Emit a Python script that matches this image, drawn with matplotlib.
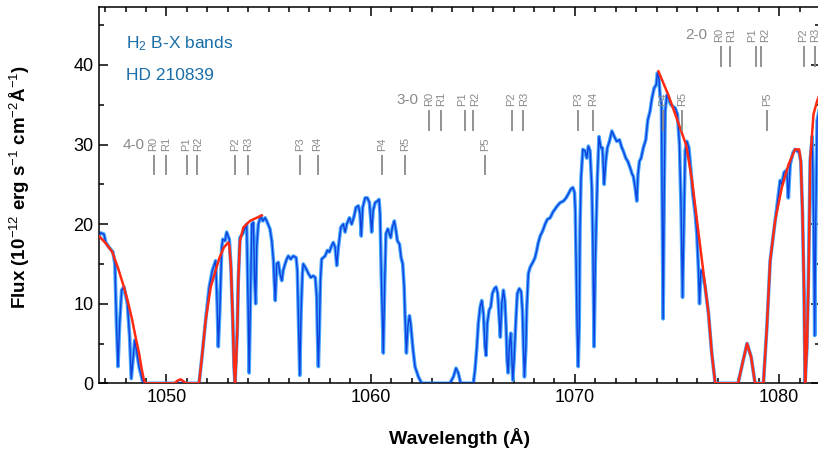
import matplotlib
matplotlib.use('Agg')
import matplotlib.pyplot as plt
from matplotlib.ticker import MultipleLocator

plt.rcParams['font.family'] = ['Liberation Sans', 'DejaVu Sans']
plt.rcParams['mathtext.fontset'] = 'custom'
plt.rcParams['mathtext.rm'] = 'Liberation Sans'
plt.rcParams['mathtext.it'] = 'Liberation Sans:italic'
plt.rcParams['mathtext.bf'] = 'Liberation Sans:bold'

# ---------------- data ----------------
blue_wl = [
    1046.70, 1046.78, 1046.94, 1047.03, 1047.19, 1047.38, 1047.48, 1047.55, 1047.63, 1047.71,
    1047.81, 1047.92, 1048.09, 1048.20, 1048.28, 1048.36, 1048.45, 1048.53, 1048.66, 1048.82,
    1048.90, 1051.60, 1051.76, 1051.92, 1052.09, 1052.25, 1052.41, 1052.49, 1052.54, 1052.61,
    1052.71, 1052.76, 1052.87, 1052.95, 1053.08, 1053.16, 1053.25, 1053.31, 1053.36, 1053.47,
    1053.52, 1053.60, 1053.74, 1053.93, 1054.00, 1054.05, 1054.13, 1054.18, 1054.26, 1054.32,
    1054.37, 1054.42, 1054.50, 1054.62, 1054.72, 1054.83, 1054.91, 1055.07, 1055.16, 1055.24,
    1055.28, 1055.33, 1055.40, 1055.48, 1055.56, 1055.65, 1055.72, 1055.81, 1055.89, 1055.97,
    1056.09, 1056.21, 1056.35, 1056.41, 1056.46, 1056.53, 1056.59, 1056.66, 1056.70, 1056.84,
    1056.95, 1057.07, 1057.19, 1057.29, 1057.36, 1057.39, 1057.44, 1057.49, 1057.54, 1057.60,
    1057.77, 1057.88, 1057.98, 1058.09, 1058.17, 1058.26, 1058.34, 1058.42, 1058.54, 1058.66,
    1058.75, 1058.83, 1058.96, 1059.07, 1059.19, 1059.28, 1059.40, 1059.48, 1059.54, 1059.61,
    1059.73, 1059.84, 1059.94, 1060.00, 1060.05, 1060.12, 1060.22, 1060.33, 1060.41, 1060.46,
    1060.52, 1060.59, 1060.62, 1060.69, 1060.75, 1060.84, 1060.92, 1060.98, 1061.06, 1061.16,
    1061.24, 1061.31, 1061.41, 1061.49, 1061.57, 1061.64, 1061.68, 1061.75, 1061.82, 1061.90,
    1061.96, 1062.06, 1062.17, 1062.34, 1062.50, 1063.89, 1063.96, 1064.05, 1064.18, 1064.29,
    1064.41, 1065.03, 1065.11, 1065.20, 1065.27, 1065.36, 1065.44, 1065.52, 1065.60, 1065.65,
    1065.71, 1065.80, 1065.88, 1065.96, 1066.06, 1066.14, 1066.22, 1066.30, 1066.35, 1066.42,
    1066.50, 1066.57, 1066.63, 1066.68, 1066.73, 1066.79, 1066.86, 1066.91, 1066.96, 1067.02,
    1067.11, 1067.18, 1067.28, 1067.37, 1067.43, 1067.48, 1067.53, 1067.60, 1067.64, 1067.72,
    1067.81, 1067.94, 1068.05, 1068.13, 1068.21, 1068.30, 1068.43, 1068.54, 1068.65, 1068.79,
    1068.92, 1069.03, 1069.14, 1069.28, 1069.44, 1069.57, 1069.68, 1069.80, 1069.90, 1069.98,
    1070.02, 1070.06, 1070.11, 1070.16, 1070.21, 1070.25, 1070.30, 1070.39, 1070.50, 1070.58,
    1070.66, 1070.74, 1070.83, 1070.88, 1070.94, 1071.00, 1071.10, 1071.18, 1071.27, 1071.35,
    1071.43, 1071.51, 1071.59, 1071.69, 1071.81, 1071.93, 1072.05, 1072.18, 1072.30, 1072.37,
    1072.49, 1072.59, 1072.70, 1072.80, 1072.86, 1072.95, 1073.03, 1073.09, 1073.16, 1073.24,
    1073.35, 1073.47, 1073.57, 1073.68, 1073.77, 1073.88, 1073.98, 1074.04, 1074.11, 1074.17,
    1074.24, 1074.27, 1074.32, 1074.37, 1074.42, 1074.50, 1074.58, 1074.70, 1074.79, 1074.91,
    1075.02, 1075.12, 1075.20, 1075.27, 1075.33, 1075.40, 1075.48, 1075.58, 1075.68, 1075.77,
    1075.89, 1075.97, 1076.05, 1076.10, 1076.17, 1076.26, 1076.38, 1076.54, 1076.70, 1076.87,
    1077.99, 1078.24, 1078.43, 1078.63, 1078.82, 1079.23, 1079.40, 1079.56, 1079.80, 1080.05,
    1080.13, 1080.24, 1080.37, 1080.45, 1080.54, 1080.68, 1080.78, 1080.98, 1081.06, 1081.14,
    1081.22, 1081.27, 1081.36, 1081.43, 1081.52, 1081.62, 1081.69, 1081.74, 1081.79, 1081.86,
    1082.01,
]
blue_flux = [
    18.5, 18.9, 18.75, 17.7, 17.1, 16.5, 15.0, 7.9, 2.1, 7.5,
    11.7, 12.1, 10.0, 5.8, 0.6, 2.9, 5.4, 4.2, 2.1, 0.4,
    0.0, 0.0, 3.8, 7.9, 12.0, 14.2, 15.4, 9.6, 4.6, 8.8,
    17.1, 18.1, 17.9, 19.0, 18.1, 14.6, 7.9, 2.1, 0.0, 6.7,
    12.9, 18.3, 18.8, 20.0, 10.0, 1.3, 12.9, 20.0, 20.2, 12.9,
    10.0, 17.1, 20.0, 21.0, 20.4, 20.8, 20.4, 19.4, 17.9, 15.4,
    12.9, 10.4, 15.0, 15.2, 13.8, 12.9, 14.2, 15.0, 15.6, 16.0,
    15.6, 16.0, 15.8, 14.2, 8.8, 1.0, 8.8, 13.8, 15.0, 14.4,
    13.8, 13.3, 13.5, 13.3, 10.8, 6.7, 2.1, 6.7, 12.9, 15.6,
    16.0, 16.7, 16.5, 17.3, 17.7, 17.1, 14.8, 17.1, 19.6, 20.0,
    19.0, 20.0, 20.8, 20.0, 21.0, 22.1, 22.3, 21.3, 18.5, 22.1,
    23.3, 23.3, 22.7, 20.8, 19.0, 21.7, 22.7, 22.9, 23.1, 21.3,
    13.8, 6.7, 3.8, 12.9, 18.8, 19.4, 18.8, 18.3, 19.6, 20.4,
    19.2, 17.9, 17.5, 15.8, 15.0, 12.1, 8.8, 3.8, 7.1, 8.5,
    7.5, 4.6, 2.1, 0.8, 0.0, 0.0, 0.4, 0.8, 1.9, 1.3,
    0.0, 0.0, 1.7, 4.6, 7.5, 9.6, 10.4, 8.8, 4.6, 3.5,
    7.5, 9.2, 9.6, 11.3, 11.9, 12.1, 11.3, 7.9, 5.8, 10.0,
    11.7, 10.4, 7.1, 2.9, 1.3, 4.6, 6.3, 3.3, 0.4, 2.9,
    7.9, 11.3, 11.9, 11.5, 9.2, 4.6, 0.8, 4.6, 9.2, 13.8,
    14.6, 15.2, 15.8, 16.7, 17.7, 18.5, 19.2, 20.0, 20.6, 20.8,
    21.5, 21.9, 22.3, 22.7, 22.9, 23.3, 23.8, 24.4, 24.6, 24.0,
    21.7, 15.4, 7.1, 2.1, 7.1, 19.6, 25.8, 29.4, 29.2, 28.3,
    29.8, 29.2, 24.6, 17.5, 4.6, 15.4, 25.8, 31.0, 29.6, 29.6,
    25.0, 27.9, 29.6, 30.4, 31.7, 31.0, 30.4, 30.6, 29.6, 29.2,
    28.3, 27.9, 27.1, 26.3, 26.0, 24.6, 22.9, 26.3, 27.9, 28.3,
    29.6, 30.6, 33.1, 34.2, 35.8, 37.1, 37.5, 39.0, 38.3, 36.2,
    35.0, 23.8, 8.1, 23.8, 34.2, 36.2, 35.8, 35.0, 34.8, 34.6,
    33.8, 30.0, 21.7, 10.8, 19.6, 29.2, 30.4, 29.6, 26.7, 23.8,
    21.3, 18.8, 14.2, 10.0, 14.2, 13.8, 12.0, 8.8, 3.8, 0.0,
    0.0, 2.9, 5.0, 3.3, 0.0, 0.0, 7.1, 15.4, 20.4, 25.5,
    25.0, 26.5, 26.8, 23.3, 27.5, 29.0, 29.4, 29.0, 27.9, 21.7,
    11.3, 0.0, 4.6, 12.9, 28.0, 31.0, 20.0, 6.0, 20.0, 33.0,
    35.0,
]

model_a_wl = [
    1046.70, 1047.03, 1047.35, 1047.63, 1047.92, 1048.12, 1048.33, 1048.50, 1048.66, 1048.79,
    1048.90, 1048.98, 1050.40, 1050.52, 1050.70, 1050.81, 1050.96, 1051.60, 1051.76, 1051.92,
    1052.17, 1052.41, 1052.60, 1052.82, 1053.03, 1053.08, 1053.16, 1053.25, 1053.31, 1053.36,
    1053.42, 1053.47, 1053.52, 1053.60, 1053.77, 1054.09, 1054.67,
]
model_a_flux = [
    18.5, 17.6, 16.5, 14.5, 12.1, 10.2, 7.9, 5.7, 3.8, 1.8,
    0.4, 0.0, 0.0, 0.3, 0.5, 0.3, 0.0, 0.0, 3.8, 7.9,
    12.1, 14.2, 15.8, 17.1, 17.7, 17.3, 14.6, 7.9, 2.1, 0.0,
    3.0, 6.7, 12.9, 17.9, 19.6, 20.4, 21.1,
]
model_b_wl = [
    1074.09, 1074.58, 1075.15, 1075.45, 1075.74, 1075.98, 1076.28, 1076.54, 1076.70, 1076.87,
    1077.99, 1078.24, 1078.43, 1078.63, 1078.82, 1079.23, 1079.40, 1079.56, 1079.80, 1080.13,
    1080.46, 1080.78, 1080.98, 1081.06, 1081.14, 1081.22, 1081.27, 1081.36, 1081.44, 1081.52,
    1081.68, 1081.85, 1082.01,
]
model_b_flux = [
    39.2, 36.2, 32.1, 29.9, 25.4, 20.4, 14.2, 8.8, 3.8, 0.0,
    0.0, 2.9, 5.0, 3.3, 0.0, 0.0, 7.1, 15.4, 20.4, 24.6,
    27.5, 29.4, 29.4, 27.9, 21.7, 11.3, 0.0, 4.6, 12.9, 28.0,
    33.8, 35.4, 36.5,
]

# H2 line identifications
band40_names = ["R0", "R1", "P1", "R2", "P2", "R3", "P3", "R4", "P4", "R5", "P5"]
band40_wl = [1049.37, 1049.96, 1051.03, 1051.50, 1053.36, 1053.98, 1056.53, 1057.40, 1060.58, 1061.70, 1065.60]
band30_names = ["R0", "R1", "P1", "R2", "P2", "R3", "P3", "R4", "P4", "R5", "P5"]
band30_wl = [1062.88, 1063.46, 1064.61, 1064.99, 1066.90, 1067.48, 1070.14, 1070.90, 1074.31, 1075.24, 1079.40]
band20_names = ["R0", "R1", "P1", "R2", "P2", "R3"]
band20_wl = [1077.14, 1077.58, 1078.85, 1079.13, 1081.20, 1081.75]

x_ticks = [1050, 1060, 1070, 1080]
y_ticks = [0, 10, 20, 30, 40]

# ---------------- figure ----------------
fig = plt.figure(figsize=(8.18, 4.49), dpi=100)
ax = fig.add_axes([99 / 818, 65.7 / 449, 721 / 818, 376 / 449])

ax.plot(blue_wl, blue_flux, color='#45a6ff', lw=2.6, solid_joinstyle='round', zorder=2)
ax.plot(blue_wl, blue_flux, color='#0f3fdc', lw=1.0, zorder=3)
ax.plot(model_a_wl, model_a_flux, color='#ff2a12', lw=1.8, zorder=4)
ax.plot(model_b_wl, model_b_flux, color='#ff2a12', lw=1.8, zorder=4)

ax.set_xlim(1046.7, 1082.0)
ax.set_ylim(0, 47.25)
ax.set_xticks(x_ticks)
ax.set_yticks(y_ticks)
ax.xaxis.set_minor_locator(MultipleLocator(1))
ax.yaxis.set_minor_locator(MultipleLocator(5))
ax.tick_params(which='both', direction='in', top=True, right=True, width=1.1, colors='black')
ax.tick_params(which='major', length=6.5, labelsize=13, pad=4)
ax.tick_params(which='minor', length=3.5)
for sp in ax.spines.values():
    sp.set_linewidth(1.1)

ax.set_xlabel('Wavelength (Å)', fontsize=14, fontweight='bold', labelpad=16)
ax.set_ylabel(r'Flux (10$^{-12}$ erg s$^{-1}$ cm$^{-2}$Å$^{-1}$)', fontsize=13.5,
              fontweight='bold')
ax.yaxis.set_label_coords(-0.093, 0.522)

title_color = '#1b6ea8'
ax.text(0.037, 0.892, r'H$_{2}$ B-X bands', transform=ax.transAxes, fontsize=12.5,
        color=title_color, ha='left', va='baseline')
ax.text(0.037, 0.807, 'HD 210839', transform=ax.transAxes, fontsize=12.5,
        color=title_color, ha='left', va='baseline')

gray = '#8a8a8a'
MIN_SEP = 0.6  # minimum label separation (Angstrom) before labels are spread apart


def draw_band(names, wls, y0, y1, ylab, band_label, band_x, band_y):
    ax.vlines(wls, y0, y1, colors=gray, lw=1.3, zorder=5)
    label_x = list(wls)
    for i in range(len(wls) - 1):
        gap = wls[i + 1] - wls[i]
        if gap < MIN_SEP:
            half = (MIN_SEP - gap) / 2
            label_x[i] -= half
            label_x[i + 1] += half
    for n, lx in zip(names, label_x):
        ax.text(lx, ylab, n, rotation=90, ha='center', va='bottom', fontsize=8,
                color=gray, clip_on=False)
    ax.text(band_x, band_y, band_label, ha='right', va='center', fontsize=11,
            color=gray)


draw_band(band40_names, band40_wl, 26.2, 28.7, 29.2, '4-0', 1048.95, 29.9)
draw_band(band30_names, band30_wl, 31.7, 34.3, 34.8, '3-0', 1062.35, 35.6)
draw_band(band20_names, band20_wl, 39.7, 42.4, 42.9, '2-0', 1076.50, 43.8)

fig.savefig('out.png', dpi=100)
